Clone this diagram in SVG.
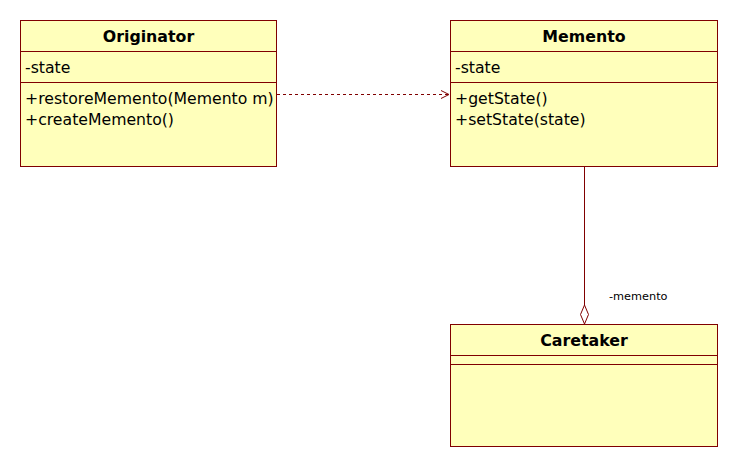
<svg xmlns="http://www.w3.org/2000/svg" width="738" height="468" viewBox="0 0 738 468">
<style>
.box{fill:#ffffbb;stroke:#800000;stroke-width:1}
.sep{stroke:#800000;stroke-width:1}
.t{font-family:"DejaVu Sans",sans-serif;font-size:15.7px;fill:#000}
.h{font-family:"DejaVu Sans",sans-serif;font-size:15.8px;font-weight:bold;fill:#000;text-anchor:middle}
.lbl{font-family:"DejaVu Sans",sans-serif;font-size:11.3px;fill:#000}
</style>
<defs>
<marker id="open" markerWidth="12" markerHeight="12" refX="9" refY="5" orient="auto" markerUnits="userSpaceOnUse">
<path d="M1,1 L9,5 L1,9" fill="none" stroke="#800000" stroke-width="1"/>
</marker>
</defs>
<rect width="738" height="468" fill="#fff"/>
<g id="originator">
<rect class="box" x="20.5" y="20.5" width="256" height="146"/>
<line class="sep" x1="20.5" y1="51.5" x2="276.5" y2="51.5"/>
<line class="sep" x1="20.5" y1="82.5" x2="276.5" y2="82.5"/>
<text class="h" x="148.5" y="42">Originator</text>
<text class="t" x="25" y="73">-state</text>
<text class="t" x="25" y="104">+restoreMemento(Memento m)</text>
<text class="t" x="25" y="125">+createMemento()</text>
</g>
<g id="memento">
<rect class="box" x="450.5" y="20.5" width="267" height="146"/>
<line class="sep" x1="450.5" y1="51.5" x2="717.5" y2="51.5"/>
<line class="sep" x1="450.5" y1="82.5" x2="717.5" y2="82.5"/>
<text class="h" x="584" y="42">Memento</text>
<text class="t" x="455" y="73">-state</text>
<text class="t" x="455" y="104">+getState()</text>
<text class="t" x="455" y="125">+setState(state)</text>
</g>
<g id="caretaker">
<rect class="box" x="450.5" y="324.5" width="267" height="122"/>
<line class="sep" x1="450.5" y1="355.5" x2="717.5" y2="355.5"/>
<line class="sep" x1="450.5" y1="364.5" x2="717.5" y2="364.5"/>
<text class="h" x="584" y="346">Caretaker</text>
</g>
<g id="connectors">
<line x1="277" y1="94.5" x2="449" y2="94.5" stroke="#800000" stroke-width="1" stroke-dasharray="3,3" marker-end="url(#open)"/>
<line x1="584.5" y1="167" x2="584.5" y2="305" stroke="#800000" stroke-width="1"/>
<path d="M584.5,305 L588.5,314.5 L584.5,324 L580.5,314.5 Z" fill="#fff" stroke="#800000" stroke-width="1"/>
<text class="lbl" x="609" y="300">-memento</text>
</g>
</svg>
